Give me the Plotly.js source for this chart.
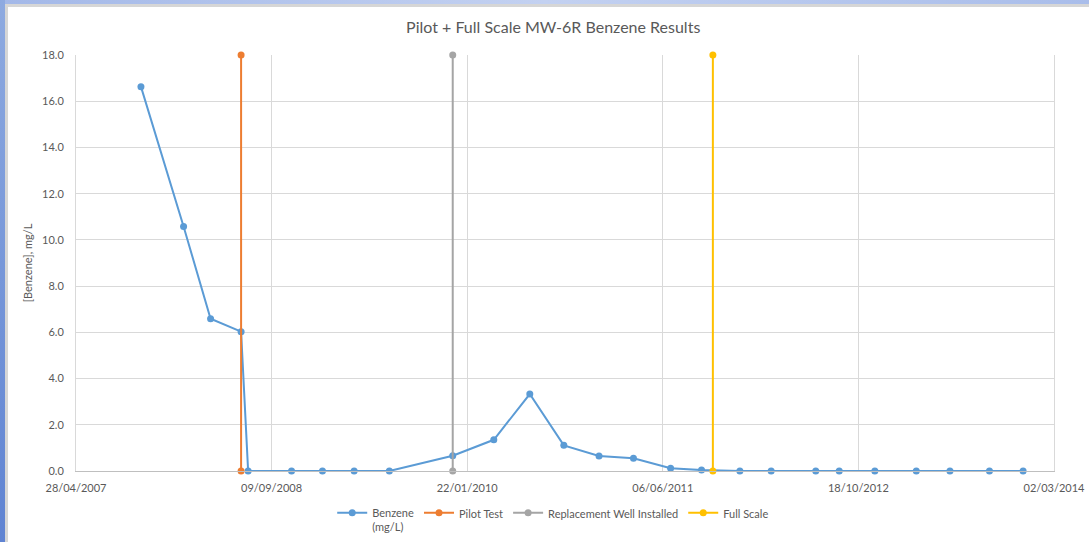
<!DOCTYPE html>
<html>
<head>
<meta charset="utf-8">
<script src="https://cdn.plot.ly/plotly-3.0.1.min.js"></script>
<style>
html,body{margin:0;padding:0;background:#fff;}
#wrap{position:relative;width:1089px;height:542px;overflow:hidden;}
#chart{position:absolute;left:0;top:0;width:1089px;height:542px;}
.fr{position:absolute;pointer-events:none;}
</style>
</head>
<body>
<div id="wrap">
<div id="chart"></div>
<div class="fr" style="left:0;top:0;width:1089px;height:4px;background:linear-gradient(to right,#a3b8e8,#c3d1f1 50%,#a9bdea);"></div>
<div class="fr" style="left:5px;top:4px;width:1084px;height:3px;background:#d6d6d6;"></div>
<div class="fr" style="left:0;top:0;width:5px;height:542px;background:linear-gradient(to bottom,#8eaae0,#5f83d2);"></div>
<div class="fr" style="left:5px;top:4px;width:3px;height:538px;background:#d6d6d6;"></div>
</div>
<script>
// Benzene sampling results
const sampleDates = ['2007-10-11','2008-01-28','2008-04-06','2008-06-23','2008-07-11','2008-10-30','2009-01-17','2009-04-08','2009-07-07','2009-12-16','2010-03-31','2010-07-01','2010-09-26','2010-12-25','2011-03-23','2011-06-26','2011-09-13','2011-12-20','2012-03-09','2012-07-01','2012-08-30','2012-11-29','2013-03-15','2013-06-09','2013-09-18','2013-12-13'];
const benzene = [16.63,10.58,6.59,6.03,0,0,0,0,0,0.66,1.35,3.33,1.11,0.65,0.55,0.12,0.04,0,0,0,0,0,0,0,0,0];

// Event markers (vertical lines)
const pilotDates = ['2008-06-23','2008-06-23'];
const pilotVals = [0,18];
const replDates = ['2009-12-16','2009-12-16'];
const replVals = [0,18];
const fullDates = ['2011-10-12','2011-10-12'];
const fullVals = [0,18];

const seriesNames = ['Benzene<br>(mg/L)','Pilot Test','Replacement Well Installed','Full Scale'];
const xRange = ['2007-04-28','2014-03-02'];

const FONT = 'Lato, "Open Sans", sans-serif';
const mk = (x,y,name,color)=>({
  x:x, y:y, name:name, type:'scatter', mode:'lines+markers', cliponaxis:false,
  line:{color:color,width:2}, marker:{color:color,size:7}, hoverinfo:'x+y'
});

const data = [
  mk(sampleDates, benzene, seriesNames[0], '#5b9bd5'),
  mk(pilotDates, pilotVals, seriesNames[1], '#ed7d31'),
  mk(replDates, replVals, seriesNames[2], '#a5a5a5'),
  mk(fullDates, fullVals, seriesNames[3], '#ffc000')
];

const layout = {
  width:1089, height:542,
  margin:{l:76, r:35, t:55, b:71, autoexpand:false},
  paper_bgcolor:'#ffffff', plot_bgcolor:'#ffffff',
  font:{family:FONT, color:'#595959', size:11},
  title:{text:'Pilot + Full Scale MW-6R Benzene Results', x:0.508, xanchor:'center', y:0.95, yanchor:'middle', yref:'container',
         font:{family:FONT, size:16, color:'#595959'}},
  showlegend:true,
  legend:{orientation:'h', x:0.508, xanchor:'center', xref:'container', y:0.079, yanchor:'top', yref:'container', valign:'top',
          font:{family:FONT, size:11, color:'#595959'}, itemwidth:30, tracegroupgap:0},
  xaxis:{
    type:'date', range:xRange, tick0:'2007-04-28', dtick:500*86400000, tickformat:'%d/%m/%Y',
    showgrid:true, gridcolor:'#d9d9d9', gridwidth:1,
    showline:true, linecolor:'#bfbfbf', linewidth:1,
    ticks:'', ticklabelstandoff:7, zeroline:false,
    tickfont:{family:FONT, size:11, color:'#595959'}
  },
  yaxis:{
    range:[0,18], dtick:2, tickformat:'.1f',
    showgrid:true, gridcolor:'#d9d9d9', gridwidth:1,
    showline:true, mirror:true, linecolor:'#d9d9d9', linewidth:1,
    zeroline:false, ticks:'', ticklabelstandoff:9,
    tickfont:{family:FONT, size:11, color:'#595959'},
    title:{text:'[Benzene], mg/L', standoff:7, font:{family:FONT, size:11, color:'#595959'}}
  }
};

Plotly.newPlot('chart', data, layout, {displayModeBar:false, staticPlot:true});
</script>
</body>
</html>
